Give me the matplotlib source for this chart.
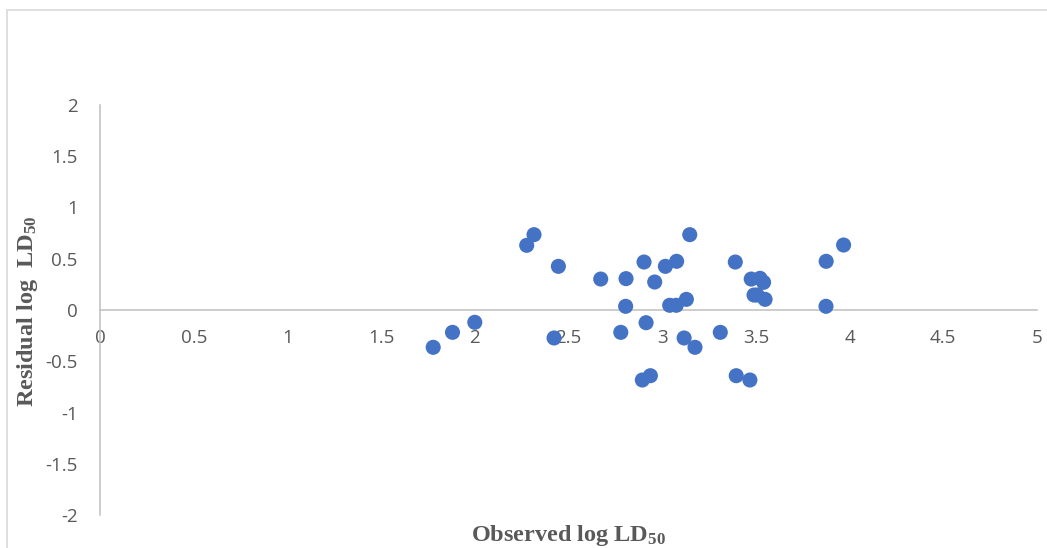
import matplotlib
matplotlib.use("Agg")
import matplotlib.pyplot as plt
from matplotlib.patches import Rectangle

plt.rcParams['mathtext.fontset'] = 'custom'
plt.rcParams['mathtext.rm'] = 'Liberation Serif:bold'
plt.rcParams['mathtext.it'] = 'Liberation Serif:bold'
plt.rcParams['mathtext.bf'] = 'Liberation Serif:bold'
plt.rcParams['mathtext.default'] = 'rm'

observed = [1.778, 1.881, 2.000, 2.316, 2.277, 2.446, 2.423, 2.672, 2.807, 2.805,
            2.779, 2.903, 2.960, 2.914, 2.894, 2.937, 3.017, 3.077, 3.147, 3.040,
            3.075, 3.129, 3.117, 3.175, 3.310, 3.390, 3.395, 3.468, 3.475, 3.522,
            3.541, 3.490, 3.507, 3.549, 3.875, 3.874, 3.968]
residual = [-0.364, -0.218, -0.120, 0.735, 0.631, 0.426, -0.273, 0.302, 0.306, 0.036,
            -0.218, 0.468, 0.273, -0.124, -0.683, -0.641, 0.426, 0.475, 0.735, 0.046,
            0.046, 0.104, -0.273, -0.364, -0.218, 0.468, -0.641, -0.683, 0.302, 0.309,
            0.270, 0.146, 0.146, 0.104, 0.475, 0.036, 0.634]

x_ticks = [0, 0.5, 1, 1.5, 2, 2.5, 3, 3.5, 4, 4.5, 5]
x_tick_labels = ["0", "0.5", "1", "1.5", "2", "2.5", "3", "3.5", "4", "4.5", "5"]
y_ticks = [-2, -1.5, -1, -0.5, 0, 0.5, 1, 1.5, 2]
y_tick_labels = ["-2", "-1.5", "-1", "-0.5", "0", "0.5", "1", "1.5", "2"]

W, H = 1047, 548
fig = plt.figure(figsize=(W / 100, H / 100), dpi=100)
fig.patch.set_facecolor('white')

# outer chart border
fig.add_artist(Rectangle((7 / W, -0.05), 1.2, 1 - 10 / H + 0.05, transform=fig.transFigure,
                         fill=False, edgecolor='#D9D9D9', linewidth=1.2))

ax = fig.add_axes([100 / W, 1 - 515 / H, (1037 - 100) / W, (515 - 105) / H])
ax.set_xlim(0, 5)
ax.set_ylim(-2, 2)

ax.scatter(observed, residual, s=118, color='#4472C4', edgecolors='none', zorder=3)

for side in ['top', 'right']:
    ax.spines[side].set_visible(False)
ax.spines['bottom'].set_position(('data', 0))
ax.spines['left'].set_position(('data', 0))
for side in ['bottom', 'left']:
    ax.spines[side].set_color('#BFBFBF')
    ax.spines[side].set_linewidth(1.1)

tick_font = dict(family='Open Sans', size=13.5)
ax.set_xticks(x_ticks)
ax.set_xticklabels(x_tick_labels, color='#595959', fontdict=tick_font)
ax.set_yticks(y_ticks)
ax.set_yticklabels(y_tick_labels, color='#595959', fontdict=tick_font)
ax.tick_params(axis='x', length=0, pad=14)
ax.tick_params(axis='y', length=0, pad=16)

label_font = dict(family='Liberation Serif', weight='bold', size=17.5, color='#595959')
fig.text(568 / W, 1 - 541 / H, r"Observed log LD$_{50}$", ha='center', va='baseline', **label_font)
fig.text(28 / W, 1 - 311 / H, r"Residual log  LD$_{50}$", ha='center', va='center',
         rotation=90, **label_font)

fig.savefig("out.png", dpi=100, facecolor='white')
